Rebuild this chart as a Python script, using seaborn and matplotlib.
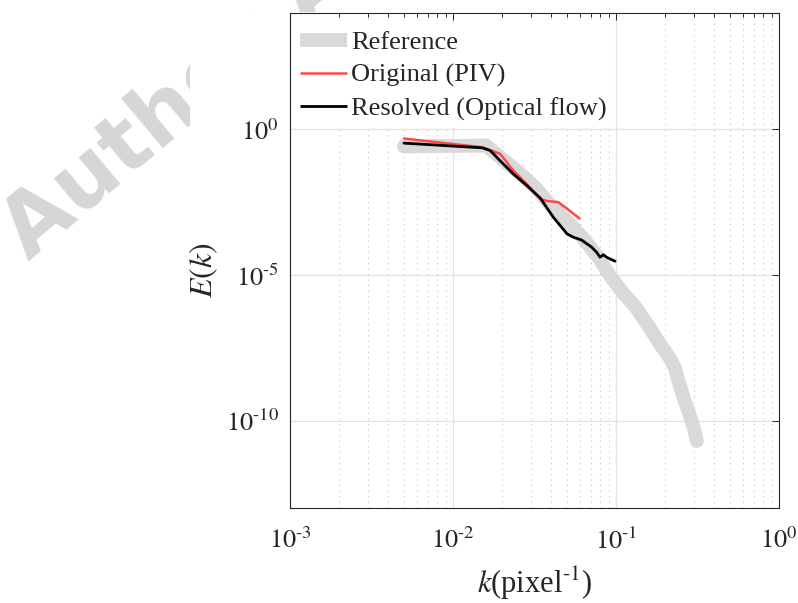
import math
import matplotlib
matplotlib.use("Agg")
import matplotlib.pyplot as plt
import matplotlib.ticker as mticker
from matplotlib.patches import Rectangle
import seaborn as sns

# Energy spectra E(k) versus wavenumber k (pixel^-1)
ref_k = [0.0050, 0.0079, 0.0126, 0.0160, 0.0195, 0.0251, 0.0316, 0.0398, 0.0501,
         0.0631, 0.0794, 0.0912, 0.110, 0.132, 0.158, 0.186, 0.214, 0.229, 0.245,
         0.263, 0.282, 0.302, 0.313]
ref_E = [2.6e-1, 2.7e-1, 2.75e-1, 2.8e-1, 1.1e-1, 3.5e-2, 1.1e-2, 2.5e-3, 7.1e-4,
         1.8e-4, 3.5e-5, 1.0e-5, 2.5e-6, 7.9e-7, 1.8e-7, 4.3e-8, 1.4e-8, 6.8e-9,
         1.8e-9, 5.0e-10, 1.7e-10, 5.0e-11, 2.0e-11]

piv_k = [0.0050, 0.0151, 0.0195, 0.0234, 0.0283, 0.0342, 0.0376, 0.0443, 0.0501, 0.0596]
piv_E = [0.49, 0.245, 0.145, 0.039, 0.0135, 0.0042, 0.0035, 0.0032, 0.0019, 0.00089]

of_k = [0.0050, 0.0151, 0.0169, 0.0194, 0.0234, 0.0283, 0.0342, 0.0412, 0.0501,
        0.0547, 0.0615, 0.0709, 0.0762, 0.0798, 0.0836, 0.0877, 0.0918, 0.0986]
of_E = [0.34, 0.235, 0.19, 0.086, 0.030, 0.012, 0.0045, 9.8e-4, 2.6e-4,
        2.0e-4, 1.6e-4, 9.1e-5, 6.0e-5, 4.1e-5, 5.0e-5, 4.1e-5, 3.6e-5, 3.0e-5]

series_labels = ["Reference", "Original (PIV)", "Resolved (Optical flow)"]
x_ticks = [1e-3, 1e-2, 1e-1, 1e0]
y_ticks = [1e-10, 1e-5, 1e0]

sns.set_theme(style="white")
plt.rcParams["font.family"] = ["Liberation Serif", "DejaVu Serif"]
plt.rcParams["mathtext.fontset"] = "stix"

fig = plt.figure(figsize=(7.98, 6.03), dpi=100)
fig.patch.set_facecolor("white")

# faint diagonal watermark behind the figure
fig.text(0.036, 0.566, "Author Accepted", fontsize=62, fontweight="bold",
         family="DejaVu Sans", color="#d6d6d6", rotation=40, rotation_mode="anchor",
         ha="left", va="baseline", zorder=-2)
fig.add_artist(Rectangle((190 / 798, 0), 1, (603 - 12) / 603, transform=fig.transFigure,
                         facecolor="white", edgecolor="none", zorder=-1))

ax = fig.add_axes([0.3634, 0.1575, 0.6128, 0.8209])
ax.set_xscale("log")
ax.set_yscale("log")

sns.lineplot(x=ref_k, y=ref_E, ax=ax, color="#d9d9d9", linewidth=10,
             solid_capstyle="round", sort=False, estimator=None, label=series_labels[0])
sns.lineplot(x=piv_k, y=piv_E, ax=ax, color="#ff4747", linewidth=1.8,
             sort=False, estimator=None, label=series_labels[1])
sns.lineplot(x=of_k, y=of_E, ax=ax, color="#000000", linewidth=2.0,
             sort=False, estimator=None, label=series_labels[2])

ax.set_xlim(1e-3, 1e0)
ax.set_ylim(1e-13, 1e4)
ax.set_xticks(x_ticks)
ax.set_yticks(y_ticks)
ax.xaxis.set_minor_locator(mticker.LogLocator(base=10, subs=range(2, 10), numticks=20))
ax.xaxis.set_minor_formatter(mticker.NullFormatter())
ax.yaxis.set_minor_locator(mticker.NullLocator())
fmt = mticker.FuncFormatter(lambda v, p: r"$10^{\text{%d}}$" % round(math.log10(v)))
ax.xaxis.set_major_formatter(fmt)
ax.yaxis.set_major_formatter(fmt)

ax.set_axisbelow(True)
ax.grid(which="major", axis="both", color="#e2e2e2", linewidth=0.9, linestyle="-")
ax.grid(which="minor", axis="x", color="#c4c4c4", linewidth=0.8, linestyle=(0, (1, 4)))

ax.tick_params(which="both", direction="in", top=True, right=True, color="#262626",
               labelsize=19, width=0.7)
ax.tick_params(which="major", length=5)
ax.tick_params(axis="y", which="major", pad=8)
ax.tick_params(axis="x", which="major", pad=14)
ax.tick_params(which="minor", length=3)
for sp in ax.spines.values():
    sp.set_color("#262626")
    sp.set_linewidth(0.8)

ax.set_xlabel(r"$k$(pixel$^{\text{-1}}$)", fontsize=22)
ax.set_ylabel(r"$E(k)$", fontsize=23)
ax.xaxis.set_label_coords(0.5, -0.115)
ax.yaxis.set_label_coords(-0.143, 0.48)

leg = ax.legend(loc="upper left", bbox_to_anchor=(0.004, 0.98), frameon=True,
                fontsize=19, handlelength=1.78, handletextpad=0.15, labelspacing=0.35,
                borderaxespad=0.0, borderpad=0.3, fancybox=False)
leg.get_frame().set_facecolor("white")
leg.get_frame().set_edgecolor("none")
leg.get_frame().set_alpha(1)
for ln in leg.get_lines():
    ln.set_solid_capstyle("butt")

fig.savefig("out.png", dpi=100, facecolor="white")
